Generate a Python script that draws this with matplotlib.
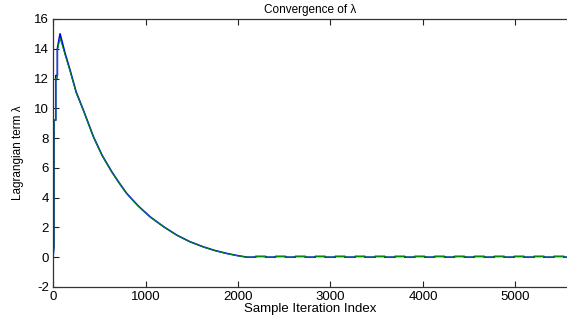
import numpy as np
import matplotlib
matplotlib.use("Agg")
import matplotlib.pyplot as plt

plt.rcParams["font.family"] = ["Liberation Sans", "DejaVu Sans"]
plt.rcParams["axes.unicode_minus"] = False

# start-up and decay of lambda
rise_x = [0, 10, 10, 30, 30, 47, 47]
blue_rise = [0, 0.7, 9.2, 9.2, 12.2, 12.2, 14.0]
green_rise = [0, 0.7, 9.2, 9.2, 12.0, 12.0, 13.9]

decay_x = [76, 130, 184, 250, 328, 437, 530, 635, 720, 797, 920, 1050,
           1200, 1339, 1480, 1627, 1750, 1880, 2000, 2100]
blue_decay = [15.0, 13.7, 12.57, 11.1, 9.88, 8.09, 6.85, 5.74, 4.95, 4.28,
              3.45, 2.71, 2.03, 1.48, 1.04, 0.69, 0.45, 0.25, 0.1, 0.0]
green_decay = [14.7, 13.6, 12.5, 11.05, 9.85, 8.07, 6.83, 5.72, 4.93, 4.27,
               3.44, 2.70, 2.02, 1.47, 1.03, 0.68, 0.44, 0.24, 0.09, 0.0]

# small periodic bumps once lambda has settled at zero
bump_starts = [2190, 2405, 2620, 2835, 3050, 3265, 3480, 3695, 3910, 4125,
               4340, 4555, 4770, 4985, 5200, 5415]
bump_width = 108
bump_height = 0.05
x_end = 5600


def build_series(rise, decay):
    xs = list(rise_x) + list(decay_x)
    ys = list(rise) + list(decay)
    for b in bump_starts:
        xs += [b, b, b + bump_width, b + bump_width]
        ys += [0.0, bump_height, bump_height, 0.0]
    xs.append(x_end)
    ys.append(0.0)
    return np.array(xs), np.array(ys)


bx, by = build_series(blue_rise, blue_decay)
gx, gy = build_series(green_rise, green_decay)

fig = plt.figure(figsize=(5.67, 3.21), dpi=100)
ax = fig.add_axes([0.0935, 0.106, 0.9065, 0.835])

ax.plot(bx, by, color="#0000ff", lw=1.2)
ax.plot(gx, gy, color="#009000", lw=0.75)

ax.set_xlim(0, 5557)
ax.set_ylim(-2, 16)
ax.set_xticks([0, 1000, 2000, 3000, 4000, 5000])
ax.set_yticks(range(-2, 17, 2))
ax.tick_params(direction="in", length=4, width=0.8, labelsize=9.5,
               top=True, colors="#222222", labelcolor="black", pad=3)
ax.spines["right"].set_visible(False)
for s in ["left", "bottom", "top"]:
    ax.spines[s].set_color("#333333")
    ax.spines[s].set_linewidth(0.9)

ax.set_xlabel("Sample Iteration Index", fontsize=9.5, labelpad=0)
ax.set_ylabel("Lagrangian term λ", fontsize=8.5, labelpad=7)
ax.set_title("Convergence of λ", fontsize=8.5, pad=4)

fig.savefig("out.png", dpi=100)
